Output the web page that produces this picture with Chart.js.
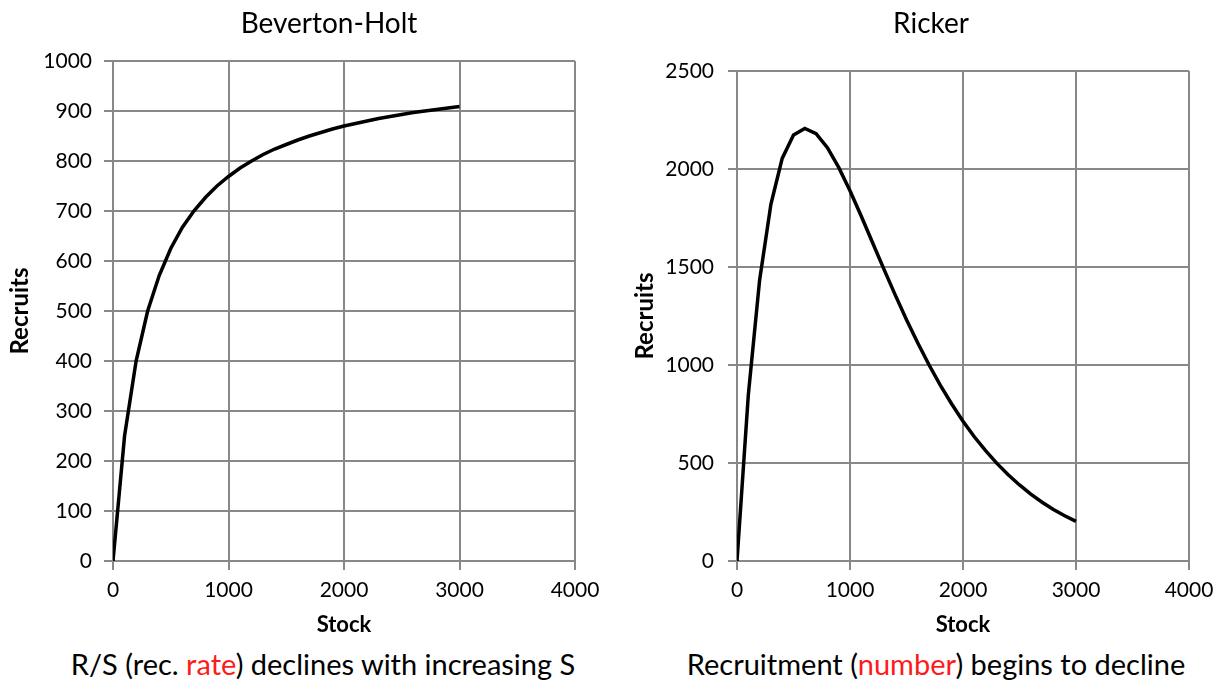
<!DOCTYPE html>
<html lang="en">
<head>
    <meta charset="UTF-8">
    <title>Stock-Recruitment</title>
    <script src="https://cdn.jsdelivr.net/npm/chart.js@4/dist/chart.umd.min.js"></script>
    <style>
        body { margin: 0; background: #fff; font-family: Lato, sans-serif; }
        .box { position: absolute; top: 0; width: 611px; height: 645px; }
        .title { position: absolute; top: 5px; font-size: 28px; line-height: 34px; white-space: nowrap; transform: translateX(-50%); color: #000; }
        .caption { position: absolute; top: 647px; font-size: 29px; line-height: 34px; white-space: nowrap; transform: translateX(-50%); color: #000; }
        .red { color: #ff1a1a; }
    </style>
    <script>
        // values
        var stock = [0, 100, 200, 300, 400, 500, 600, 700, 800, 900, 1000, 1100, 1200, 1300, 1400, 1500,
                     1600, 1700, 1800, 1900, 2000, 2100, 2200, 2300, 2400, 2500, 2600, 2700, 2800, 2900, 3000];
        var bevHolt = [0, 250, 400, 500, 571, 625, 667, 700, 727, 750, 769, 786, 800, 813, 824, 833,
                       842, 850, 857, 864, 870, 875, 880, 885, 889, 893, 897, 900, 903, 906, 909];
        var ricker = [0, 846, 1433, 1820, 2054, 2173, 2207, 2180, 2109, 2008, 1889, 1759, 1624, 1489, 1358, 1231,
                      1112, 1000, 896, 801, 713, 634, 563, 498, 440, 388, 341, 300, 263, 231, 202];
        var xTicks = [0, 1000, 2000, 3000, 4000];

        Chart.defaults.font.family = 'Lato';
        Chart.defaults.color = '#000';

        function plain(v) { return String(v); }

        function makeChart(id, values, yMax, yStep, opt) {
            var pts = [];
            for (var i = 0; i < stock.length; i++) {
                pts.push({x: stock[i], y: values[i]});
            }
            var gridColor = '#888888';
            return new Chart(document.getElementById(id), {
                type: 'line',
                data: {
                    datasets: [{
                        data: pts,
                        borderColor: '#000',
                        borderWidth: 3.5,
                        pointRadius: 0,
                        tension: 0,
                        fill: false
                    }]
                },
                options: {
                    responsive: false,
                    animation: false,
                    layout: { padding: { left: 0, right: opt.padRight, top: opt.padTop, bottom: 0 } },
                    plugins: {
                        legend: { display: false },
                        tooltip: { enabled: false }
                    },
                    scales: {
                        x: {
                            type: 'linear',
                            min: 0, max: 4000,
                            afterBuildTicks: function (s) { s.ticks = xTicks.map(function (v) { return {value: v}; }); },
                            afterFit: function (s) { s.height = 84; },
                            ticks: { font: { size: 21 }, padding: 8, maxRotation: 0, callback: plain },
                            grid: { color: gridColor, lineWidth: 2, tickLength: 9 },
                            border: { color: gridColor, width: 2 },
                            title: { display: true, text: 'Stock', font: { size: 22, weight: 'bold' }, padding: { top: 0, bottom: 7 } }
                        },
                        y: {
                            min: 0, max: yMax,
                            ticks: { stepSize: yStep, font: { size: 21 }, padding: opt.tickPad, callback: plain },
                            afterFit: function (s) { s.width = opt.axisWidth; },
                            grid: { color: gridColor, lineWidth: 2, tickLength: 9 },
                            border: { color: gridColor, width: 2 },
                            title: { display: true, text: 'Recruits', font: { size: 24, weight: 'bold' }, padding: { top: opt.yTitlePad, bottom: 0 } }
                        }
                    }
                }
            });
        }

        window.onload = function () {
            makeChart('bhChart', bevHolt, 1000, 100,
                {padRight: 36, padTop: 61, axisWidth: 113, tickPad: 12, yTitlePad: 6});
            makeChart('rkChart', ricker, 2500, 500,
                {padRight: 33, padTop: 71, axisWidth: 126, tickPad: 14, yTitlePad: 20});
        };
    </script>
</head>
<body>
    <div class="box" style="left: 0;"><canvas id="bhChart" width="611" height="645"></canvas></div>
    <div class="box" style="left: 611px;"><canvas id="rkChart" width="611" height="645"></canvas></div>
    <div class="title" style="left: 329px;">Beverton-Holt</div>
    <div class="title" style="left: 931px;">Ricker</div>
    <div class="caption" style="left: 323px;">R/S (rec. <span class="red">rate</span>) declines with increasing S</div>
    <div class="caption" style="left: 936px;">Recruitment (<span class="red">number</span>) begins to decline</div>
</body>
</html>
